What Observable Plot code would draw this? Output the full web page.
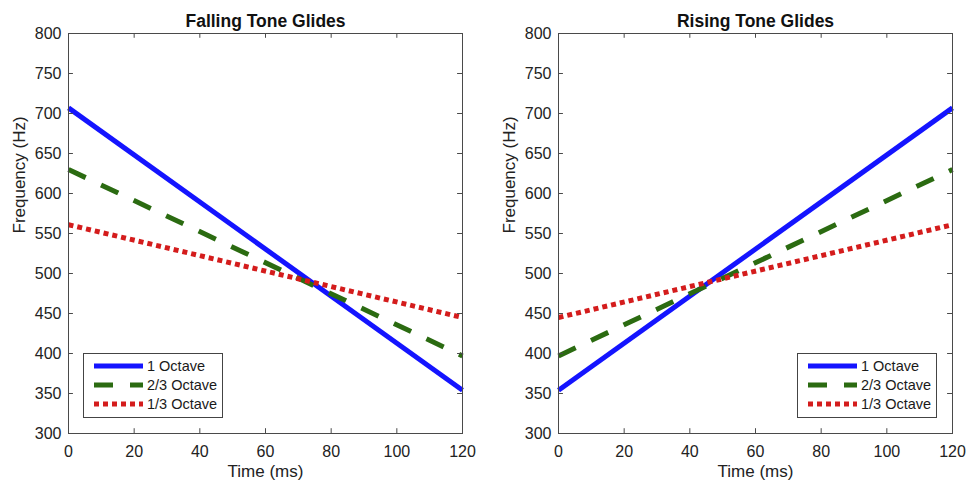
<!DOCTYPE html>
<html>
<head>
<meta charset="utf-8">
<script src="https://cdn.jsdelivr.net/npm/d3@7"></script>
<script src="https://cdn.jsdelivr.net/npm/@observablehq/plot@0.6"></script>
<style>
  body { margin: 0; background: #fff; }
  #wrap { position: relative; width: 976px; height: 482px; font-family: "Liberation Sans", Arial, sans-serif; overflow: hidden; }
  .panel { position: absolute; top: 0; }
  .legend { position: absolute; box-sizing: border-box; width: 140px; height: 65px; border: 1px solid #444; background: #fff; }
  .legend .row { position: absolute; left: 0; height: 18px; width: 100%; }
  .legend svg { position: absolute; left: 10px; top: 0; }
  .legend span { position: absolute; left: 63px; top: 0; line-height: 18px; font-size: 14.5px; color: #1a1a1a; white-space: nowrap; }
</style>
</head>
<body>
<div id="wrap"></div>
<script>
// ---- data ----
const timeMs = [0, 120];
const seriesNames = ["1 Octave", "2/3 Octave", "1/3 Octave"];
const seriesColors = ["#1414ff", "#2b6b11", "#d41c1c"];
const seriesDash = ["none", "19,17", "5,4"];
const falling1Oct = [707, 354];
const falling23Oct = [630, 397];
const falling13Oct = [561, 445];
const rising1Oct = [354, 707];
const rising23Oct = [397, 630];
const rising13Oct = [445, 561];
const xTicks = [0, 20, 40, 60, 80, 100, 120];
const yTicks = [300, 350, 400, 450, 500, 550, 600, 650, 700, 750, 800];
const panelTitles = ["Falling Tone Glides", "Rising Tone Glides"];
const xLabel = "Time (ms)";
const yLabel = "Frequency (Hz)";

const wrap = document.getElementById("wrap");
const toRows = vals => timeMs.map((t, i) => ({t, f: vals[i]}));

function panel(title, series, marginLeft, marginRight) {
  const frameColor = "#4a4a4a";
  const marks = [
    ...series.map((vals, i) => Plot.line(toRows(vals), {
      x: "t", y: "f", stroke: seriesColors[i], strokeWidth: 5,
      strokeDasharray: seriesDash[i], strokeLinecap: "butt"
    })),
    Plot.frame({stroke: frameColor, strokeWidth: 1}),
    Plot.ruleY(yTicks, {y: d => d, x1: 0, x2: 1.5, stroke: frameColor}),
    Plot.ruleY(yTicks, {y: d => d, x1: 118.5, x2: 120, stroke: frameColor}),
    Plot.ruleX(xTicks, {x: d => d, y1: 300, y2: 306, stroke: frameColor}),
    Plot.ruleX(xTicks, {x: d => d, y1: 794, y2: 800, stroke: frameColor}),
    Plot.axisX(xTicks, {anchor: "bottom", tickSize: 0, tickPadding: 12, label: null, fontSize: 16, fill: "#222"}),
    Plot.axisY(yTicks, {anchor: "left", tickSize: 0, tickPadding: 7, label: null, fontSize: 16, fill: "#222"}),
    Plot.text([title], {frameAnchor: "top", lineAnchor: "middle", dy: -12, fontSize: 17.5, fontWeight: "bold", fill: "#111"}),
    Plot.text([xLabel], {frameAnchor: "bottom", lineAnchor: "middle", dy: 38, fontSize: 17, fill: "#222"}),
    Plot.text([yLabel], {frameAnchor: "left", lineAnchor: "middle", dx: -49, rotate: -90, fontSize: 17, fill: "#222"})
  ];
  return Plot.plot({
    width: 488, height: 482,
    marginLeft, marginRight, marginTop: 33, marginBottom: 49,
    x: {domain: [0, 120], axis: null},
    y: {domain: [300, 800], axis: null},
    style: {fontFamily: "'Liberation Sans', Arial, sans-serif", fontSize: "16px", background: "#fff", overflow: "visible"},
    marks
  });
}

function legend(left, top) {
  const box = document.createElement("div");
  box.className = "legend";
  box.style.left = left + "px";
  box.style.top = top + "px";
  const rowTops = [3, 22, 41];
  seriesNames.forEach((name, i) => {
    const row = document.createElement("div");
    row.className = "row";
    row.style.top = rowTops[i] + "px";
    const dash = seriesDash[i] === "none" ? "" : `stroke-dasharray="${seriesDash[i]}"`;
    row.innerHTML = `<svg width="50" height="18"><line x1="0" y1="9" x2="49" y2="9" stroke="${seriesColors[i]}" stroke-width="5" ${dash}/></svg><span>${name}</span>`;
    box.appendChild(row);
  });
  wrap.appendChild(box);
}

const p1 = panel(panelTitles[0], [falling1Oct, falling23Oct, falling13Oct], 68, 26);
p1.classList.add("panel"); p1.style.left = "0px";
wrap.appendChild(p1);
const p2 = panel(panelTitles[1], [rising1Oct, rising23Oct, rising13Oct], 70, 24);
p2.classList.add("panel"); p2.style.left = "488px";
wrap.appendChild(p2);

legend(83, 353);
legend(797, 353);
</script>
</body>
</html>
